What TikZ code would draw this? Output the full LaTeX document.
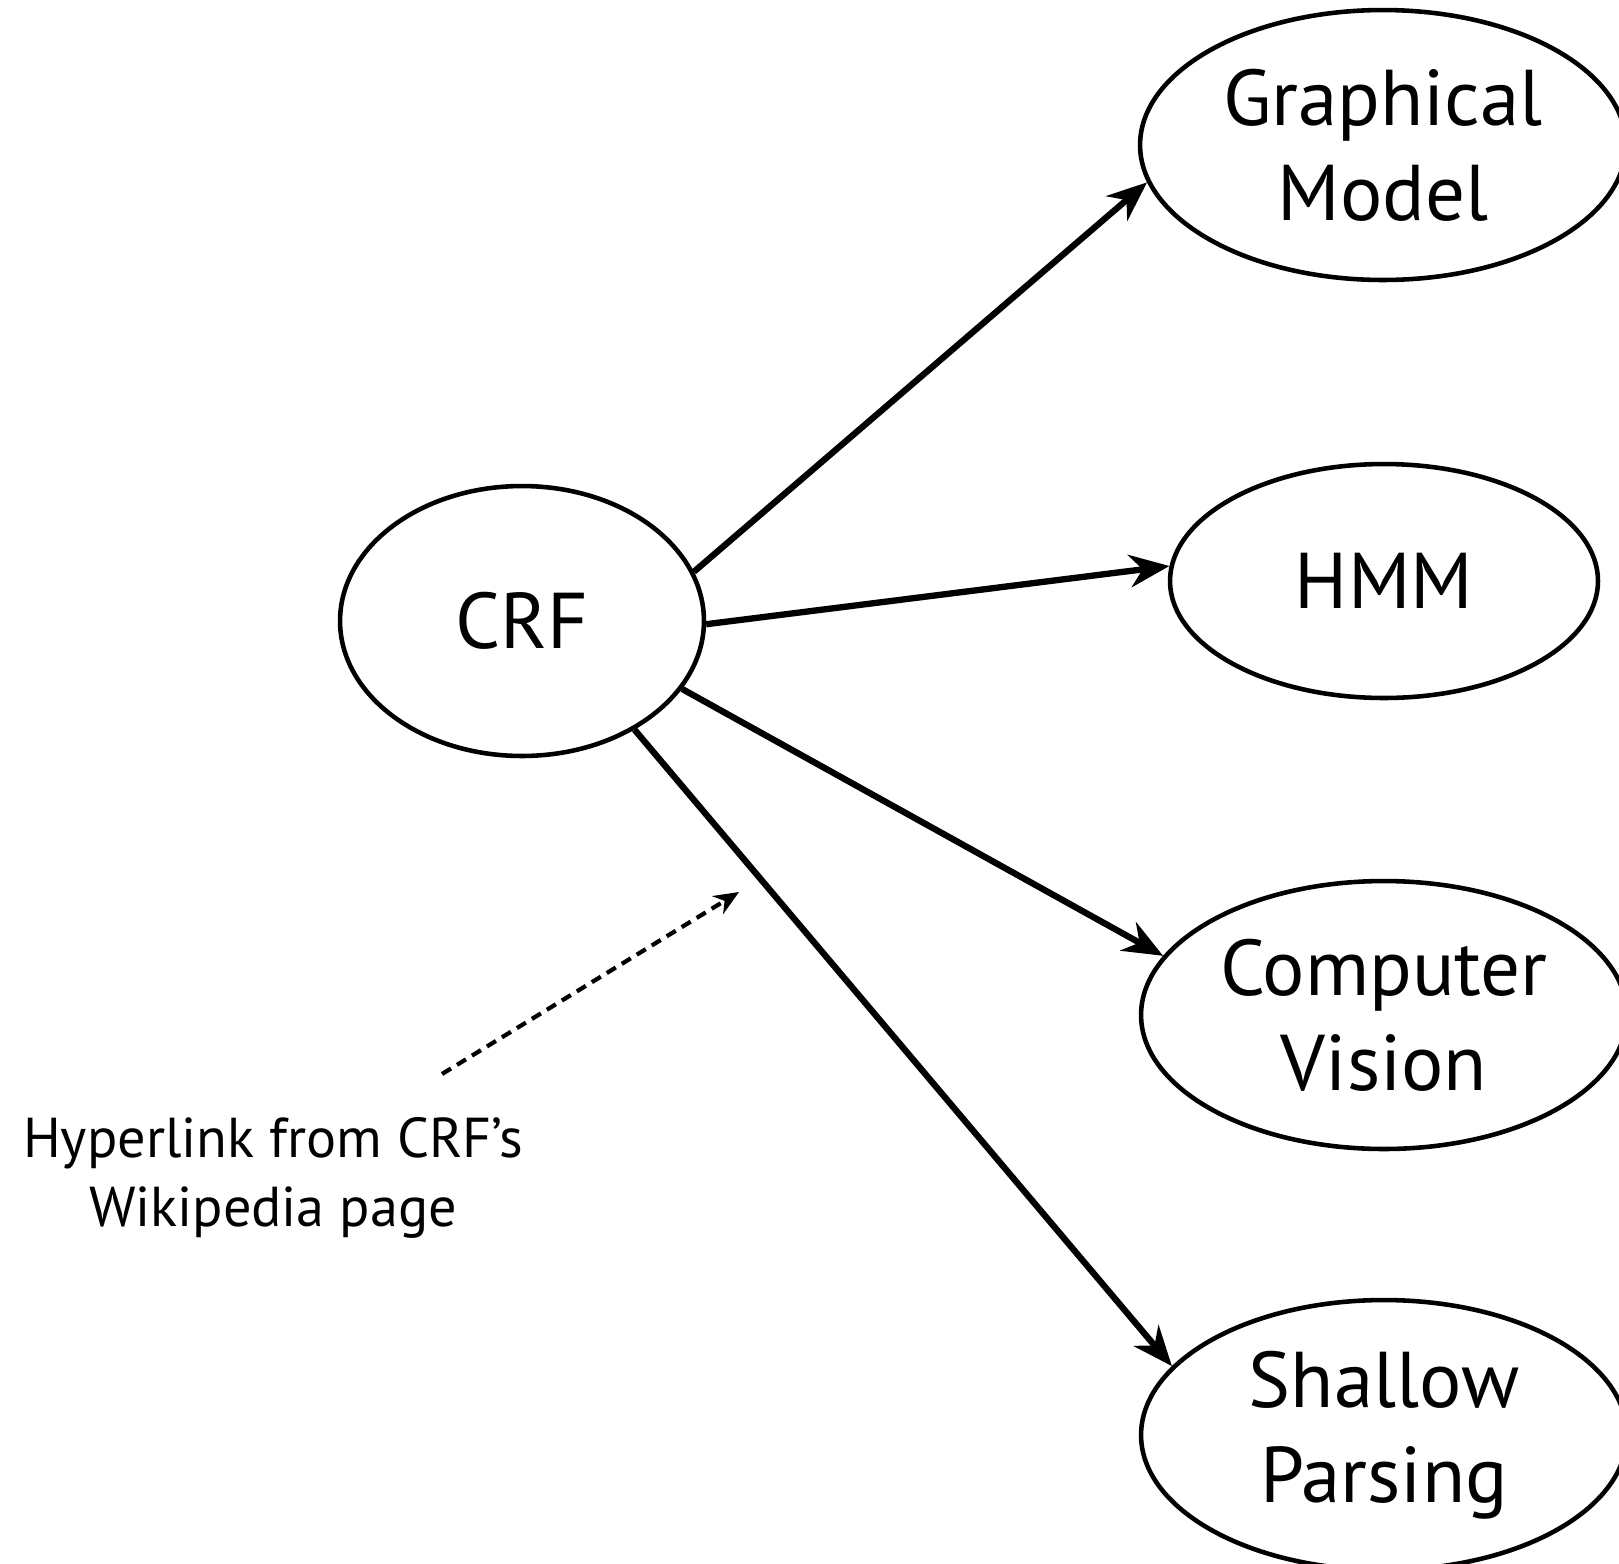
\documentclass[tikz,border=0pt]{standalone}
\usepackage{fontspec}
\setmainfont{PT Sans}
\usetikzlibrary{shapes.geometric, arrows.meta}
\tikzstyle{topic} = [ellipse, draw, line width=2.6pt, inner sep=0pt, align=center, font=\fontsize{45}{54}\selectfont]
\tikzstyle{arrow} = [line width=3.6pt, -{Stealth[length=0.8cm, width=0.65cm]}]
\tikzstyle{link} = [line width=2.4pt, dash pattern=on 6pt off 4pt, -{Stealth[length=0.5cm, width=0.42cm]}]

\begin{document}
\begin{tikzpicture}[x=0.02cm, y=-0.02cm]
    \useasboundingbox (0,0) rectangle (1619,1563);
    % Nodes
    \node (crf) [topic, minimum width=7.28cm, minimum height=5.4cm] at (522,621) {CRF};
    \node (graph) [topic, minimum width=9.72cm, minimum height=5.4cm] at (1383,145) {Graphical\\Model};
    \node (hmm) [topic, minimum width=8.56cm, minimum height=4.68cm] at (1384,581) {HMM};
    \node (vision) [topic, minimum width=9.72cm, minimum height=5.36cm] at (1384,1015) {Computer\\Vision};
    \node (parsing) [topic, minimum width=9.72cm, minimum height=5.4cm] at (1384,1435) {Shallow\\Parsing};
    \node (note) [align=center, font=\fontsize{32}{39}\selectfont] at (273,1178) {Hyperlink from CRF’s\\Wikipedia page};
    \coordinate (linkstart) at (442,1074);
    \coordinate (linkend) at (739,892);

    % Arrows
    \draw [arrow] (crf.16.8) -- (graph.189.3);
    \draw [arrow] (crf.-1.6) -- (hmm.176);
    \draw [arrow] (crf.-23.1) -- (vision.165);
    \draw [arrow] (crf.-44) -- (parsing.162.6);
    \draw [link] (linkstart) -- (linkend);
\end{tikzpicture}
\end{document}
